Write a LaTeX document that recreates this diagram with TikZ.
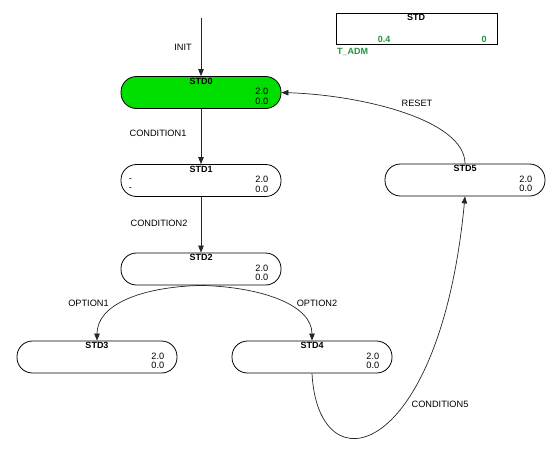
\documentclass[tikz,border=0pt]{standalone}
\usepackage{fontspec}
\setmainfont{Liberation Sans}
\usetikzlibrary{arrows.meta,calc}
\definecolor{stategreen}{RGB}{0,222,0}
\definecolor{vargreen}{RGB}{30,150,60}
\begin{document}
\begin{tikzpicture}[x=1pt,y=-1pt,
  statebox/.style={draw=black,line width=0.8pt,rounded corners=15.5pt,minimum width=160pt,minimum height=32pt,inner sep=0pt},
  ttl/.style={font=\bfseries\fontsize{9}{10}\selectfont,inner sep=0pt},
  val/.style={font=\fontsize{9.2}{10}\selectfont,inner sep=0pt,anchor=east},
  dashv/.style={font=\fontsize{9.2}{10}\selectfont,inner sep=0pt,anchor=west},
  lbl/.style={font=\fontsize{9.2}{10}\selectfont,inner sep=0pt},
  conn/.style={line width=0.7pt,black!85,-{Triangle[length=7pt,width=5.5pt]}},
  varbox/.style={draw=black,line width=0.8pt,minimum width=161pt,minimum height=31pt,inner sep=0pt},
  varval/.style={font=\bfseries\fontsize{9}{10}\selectfont,text=vargreen,inner sep=0pt}
]
\useasboundingbox (0,0) rectangle (556,450);

% variable display box
\node[varbox] (vb) at (416.5,28.5) {};
\node[ttl] (vbt) at (416,17.5) {STD};
\node[varval] (vb1) at (384,39.5) {0.4};
\node[varval] (vb2) at (484,39.5) {0};
\node[varval,anchor=west] (vbn) at (337,52) {T\_ADM};

% states
\node[statebox,fill=stategreen] (s0) at (201,92.5) {};
\node[statebox] (s1) at (201,180.5) {};
\node[statebox] (s2) at (201,269) {};
\node[statebox] (s3) at (97,357) {};
\node[statebox] (s4) at (312,357) {};
\node[statebox] (s5) at (465,180) {};

\foreach \s/\t in {s0/STD0,s1/STD1,s2/STD2,s3/STD3,s4/STD4,s5/STD5}{
  \node[ttl] (\s t) at ($(\s.north)+(0,4.8)$) {\t};
  \node[val] (\s a) at ($(\s.north east)+(-13,15.5)$) {2.0};
  \node[val] (\s b) at ($(\s.north east)+(-13,25)$) {0.0};
}
\node[dashv] (s1c) at ($(s1.north west)+(8,15.5)$) {-};
\node[dashv] (s1d) at ($(s1.north west)+(8,25)$) {-};

% connectors
\coordinate (init) at (201,18);
\draw[conn] (init) -- (s0.north);
\node[lbl] (linit) at (183,47) {INIT};

\draw[conn] (s0.south) -- (s1.north);
\node[lbl] (lc1) at (158,133) {CONDITION1};

\draw[conn] (s1.south) -- (s2.north);
\node[lbl] (lc2) at (159,223) {CONDITION2};

\draw[conn] (s2.south) .. controls (140,287) and (97,305) .. (s3.north);
\node[lbl] (lo1) at (88.5,303) {OPTION1};

\draw[conn] (s2.south) .. controls (262,287) and (312,305) .. (s4.north);
\node[lbl] (lo2) at (317,303) {OPTION2};

\draw[conn] (s4.south) .. controls (318,490) and (440,460) .. (s5.south);
\node[lbl] (lc5) at (440,404) {CONDITION5};

\draw[conn] (s5.north) .. controls (465,120) and (362,95) .. (s0.east);
\node[lbl] (lr) at (417,103) {RESET};
\end{tikzpicture}
\end{document}
